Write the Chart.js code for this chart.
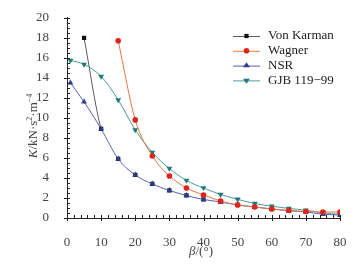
<!DOCTYPE html>
<html>
<head>
<meta charset="utf-8">
<script src="https://cdn.jsdelivr.net/npm/chart.js@4.4.0/dist/chart.umd.min.js"></script>
<style>
  html, body { margin: 0; padding: 0; background: #fff; }
  #wrap { width: 357px; height: 266px; }
</style>
</head>
<body>
<div id="wrap"><canvas id="chart"></canvas></div>
<script>
// deadrise angle (deg)
const angles = [1, 5, 10, 15, 20, 25, 30, 35, 40, 45, 50, 55, 60, 65, 70, 75, 80];

// K values (null = no point)
const vonKarman = [null, 18.0, 8.9, 5.9, 4.3, 3.4, 2.75, 2.25, 1.85, 1.6, 1.3, 1.1, 0.9, 0.72, 0.6, 0.4, 0.3];
const wagner = [null, null, null, 17.7, 9.8, 6.2, 4.2, 3.0, 2.3, 1.7, 1.3, 1.1, 0.9, 0.75, 0.65, 0.6, 0.6];
const nsr = [13.5, 11.6, 8.9, 5.9, 4.3, 3.4, 2.75, 2.25, 1.85, 1.6, 1.3, 1.1, 0.9, 0.72, 0.6, 0.38, 0.3];
const gjb = [15.75, 15.35, 14.15, 11.8, 8.8, 6.55, 4.95, 3.75, 3.0, 2.35, 1.87, 1.45, 1.18, 0.95, 0.78, 0.52, 0.36];

const seriesNames = ['Von Karman', 'Wagner', 'NSR', 'GJB 119\u221299'];
const xTicks = [0, 10, 20, 30, 40, 50, 60, 70, 80];
const yTicks = [0, 2, 4, 6, 8, 10, 12, 14, 16, 18, 20];

function points(vals) {
  let out = [];
  for (let i = 0; i < angles.length; i++) {
    if (vals[i] !== null) out.push({ x: angles[i], y: vals[i] });
  }
  return out;
}

const serif = '"Liberation Serif", "DejaVu Serif", serif';

// inward minor ticks, outward major ticks
const axisTicks = {
  id: 'axisTicks',
  afterDraw(chart) {
    const ctx = chart.ctx, a = chart.chartArea;
    const xs = chart.scales.x, ys = chart.scales.y;
    ctx.save();
    ctx.strokeStyle = '#222';
    ctx.lineWidth = 1;
    ctx.beginPath();
    for (let v = 0; v <= 80; v += 2) {
      const px = Math.round(xs.getPixelForValue(v)) + 0.5;
      if (v % 10 === 0) { ctx.moveTo(px, a.bottom + 3); ctx.lineTo(px, a.bottom - 3); }
      else { ctx.moveTo(px, a.bottom); ctx.lineTo(px, a.bottom - 3); }
    }
    for (let v = 0; v <= 20; v += 0.5) {
      const py = Math.round(ys.getPixelForValue(v)) + 0.5;
      if (v % 2 === 0) { ctx.moveTo(a.left - 3, py); ctx.lineTo(a.left + 3, py); }
      else { ctx.moveTo(a.left, py); ctx.lineTo(a.left + 3, py); }
    }
    ctx.stroke();
    ctx.restore();
  }
};

// axis titles with italic symbols
const axisTitles = {
  id: 'axisTitles',
  afterDraw(chart) {
    const ctx = chart.ctx;
    const parts = (list, x, y) => {
      let w = 0;
      list.forEach(p => { ctx.font = p[1]; w += ctx.measureText(p[0]).width; });
      let cx = x - w / 2;
      list.forEach(p => {
        ctx.font = p[1];
        ctx.fillText(p[0], cx, y + (p[2] || 0));
        cx += ctx.measureText(p[0]).width;
      });
    };
    ctx.save();
    ctx.fillStyle = '#444';
    ctx.textBaseline = 'middle';
    ctx.textAlign = 'left';
    parts([['\u03b2', 'italic 13px ' + serif], ['/(\u00b0)', '13px ' + serif]], 201, 252);
    ctx.translate(34, 126);
    ctx.rotate(-Math.PI / 2);
    parts([
      ['K', 'italic 13px ' + serif],
      ['/kN\u00b7s', '13px ' + serif],
      ['2', '8px ' + serif, -4],
      ['\u00b7m', '13px ' + serif],
      ['\u22124', '8px ' + serif, -4]
    ], 0, 0);
    ctx.restore();
  }
};

function drawMarker(ctx, ds, x, y) {
  const r = ds.pointRadius;
  ctx.fillStyle = ds.pointBackgroundColor;
  ctx.beginPath();
  if (ds.pointStyle === 'rect') {
    const s = r * Math.SQRT1_2;
    ctx.rect(x - s, y - s, 2 * s, 2 * s);
  } else if (ds.pointStyle === 'circle') {
    ctx.arc(x, y, r, 0, Math.PI * 2);
  } else {
    const dir = ds.pointRotation ? -1 : 1;
    const w = r * Math.sqrt(3) / 2;
    ctx.moveTo(x, y - dir * r);
    ctx.lineTo(x - w * 1.15, y + dir * r * 0.5);
    ctx.lineTo(x + w * 1.15, y + dir * r * 0.5);
    ctx.closePath();
  }
  ctx.fill();
}

const legendBox = {
  id: 'legendBox',
  afterDraw(chart) {
    const ctx = chart.ctx;
    ctx.save();
    ctx.textBaseline = 'middle';
    ctx.textAlign = 'left';
    ctx.font = '13px ' + serif;
    chart.data.datasets.forEach((ds, i) => {
      const y = 36 + i * 14.8;
      ctx.strokeStyle = ds.borderColor;
      ctx.lineWidth = 1;
      ctx.beginPath();
      ctx.moveTo(233, y + 0.5);
      ctx.lineTo(260, y + 0.5);
      ctx.stroke();
      drawMarker(ctx, ds, 246.5, y);
      ctx.fillStyle = '#222';
      ctx.fillText(ds.label, 268, y);
    });
    ctx.restore();
  }
};

function series(label, vals, line, mark, style, extra) {
  return Object.assign({
    label: label,
    data: points(vals),
    borderColor: line,
    borderWidth: 1,
    pointBackgroundColor: mark,
    pointBorderWidth: 0,
    pointRadius: 3,
    pointStyle: style,
    cubicInterpolationMode: 'monotone',
    fill: false
  }, extra || {});
}

new Chart(document.getElementById('chart'), {
  type: 'line',
  data: {
    datasets: [
      // drawn underneath; past 10 deg it coincides with NSR
      series(seriesNames[0], vonKarman, '#5a5a66', '#111', 'rect', {
        order: 10,
        segment: { borderColor: c => c.p0.parsed.x >= 10 ? 'rgba(0,0,0,0)' : undefined }
      }),
      series(seriesNames[1], wagner, '#e8773e', '#e0241c', 'circle', { pointRadius: 2.8 }),
      series(seriesNames[2], nsr, '#5660b4', '#2b3d8c', 'triangle', { pointRadius: 3.4 }),
      series(seriesNames[3], gjb, '#4b9c98', '#1e7a74', 'triangle', { pointRadius: 3.4, pointRotation: 180 })
    ]
  },
  options: {
    responsive: true,
    maintainAspectRatio: false,
    animation: false,
    layout: { padding: { top: 15, right: 17, left: 0, bottom: 0 } },
    plugins: { legend: { display: false }, tooltip: { enabled: false } },
    scales: {
      x: {
        type: 'linear',
        min: 0, max: 80,
        afterFit: s => { s.height = 48; },
        afterBuildTicks: s => { s.ticks = xTicks.map(v => ({ value: v })); },
        grid: { display: false },
        border: { display: true, color: '#222', width: 1 },
        ticks: { padding: 9, color: '#444', font: { family: serif, size: 13 } }
      },
      y: {
        min: 0, max: 20,
        afterFit: s => { s.width = 67; },
        afterBuildTicks: s => { s.ticks = yTicks.map(v => ({ value: v })); },
        grid: { display: false },
        border: { display: true, color: '#222', width: 1 },
        ticks: { padding: 10, color: '#444', font: { family: serif, size: 13 } }
      }
    }
  },
  plugins: [axisTicks, axisTitles, legendBox]
});
</script>
</body>
</html>
